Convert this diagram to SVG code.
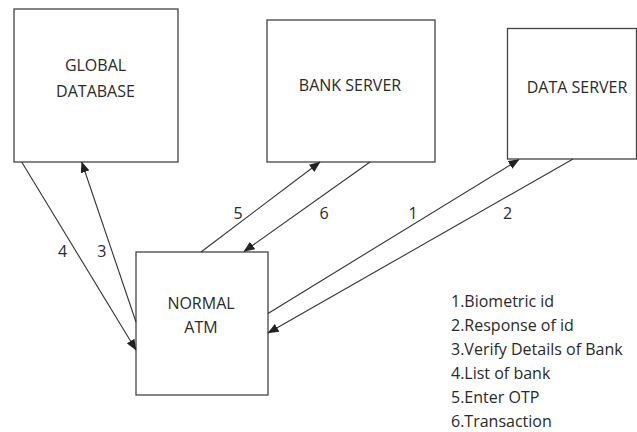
<svg xmlns="http://www.w3.org/2000/svg" width="637" height="432" viewBox="0 0 637 432">
<defs>
<marker id="ah" markerUnits="userSpaceOnUse" markerWidth="11" markerHeight="9" viewBox="0 0 11 9" refX="10.5" refY="4.5" orient="auto">
<path d="M0,0 L11,4.5 L0,9 z" fill="#222"/>
</marker>
<style>
.box{fill:#fff;stroke:#444;stroke-width:1.3}
.lbl{font-family:"Open Sans","Liberation Sans",sans-serif;font-size:16px;fill:#2a2a2a;text-anchor:middle}
.leg{font-family:"Open Sans","Liberation Sans",sans-serif;font-size:16px;fill:#2a2a2a}
.ln{stroke:#333;stroke-width:1.1;fill:none}
.arr{stroke:#333;stroke-width:1.1;fill:none;marker-end:url(#ah)}
</style>
</defs>
<rect width="637" height="432" fill="#fff"/>
<g id="global-database">
<rect class="box" x="14" y="9" width="164" height="153"/>
<text class="lbl" x="95.5" y="71">GLOBAL</text>
<text class="lbl" x="95.5" y="97">DATABASE</text>
</g>
<g id="bank-server">
<rect class="box" x="267" y="20" width="168" height="142"/>
<text class="lbl" x="350" y="91">BANK SERVER</text>
</g>
<g id="data-server">
<rect class="box" x="507.5" y="28.5" width="129" height="130.5"/>
<text class="lbl" x="577" y="93">DATA SERVER</text>
</g>
<g id="normal-atm">
<rect class="box" x="136" y="252" width="132" height="143"/>
<text class="lbl" x="201" y="309">NORMAL</text>
<text class="lbl" x="201" y="333">ATM</text>
</g>
<g id="connectors">
<line class="arr" x1="21.7" y1="162" x2="136" y2="350"/>
<line class="arr" x1="136" y1="322" x2="81.7" y2="162"/>
<line class="arr" x1="201" y1="252" x2="320" y2="162"/>
<line class="arr" x1="370" y1="162" x2="244" y2="251.5"/>
<line class="arr" x1="268" y1="313.5" x2="519" y2="159.5"/>
<line class="arr" x1="573" y1="159" x2="268" y2="333"/>
<text class="lbl" x="62.5" y="257">4</text>
<text class="lbl" x="101.8" y="257">3</text>
<text class="lbl" x="238" y="219">5</text>
<text class="lbl" x="324" y="219">6</text>
<text class="lbl" x="413" y="219">1</text>
<text class="lbl" x="507.5" y="219">2</text>
</g>
<g id="legend">
<text class="leg" x="451" y="307">1.Biometric id</text>
<text class="leg" x="451" y="331">2.Response of id</text>
<text class="leg" x="451" y="355">3.Verify Details of Bank</text>
<text class="leg" x="451" y="379">4.List of bank</text>
<text class="leg" x="451" y="403">5.Enter OTP</text>
<text class="leg" x="451" y="427">6.Transaction</text>
</g>
</svg>
